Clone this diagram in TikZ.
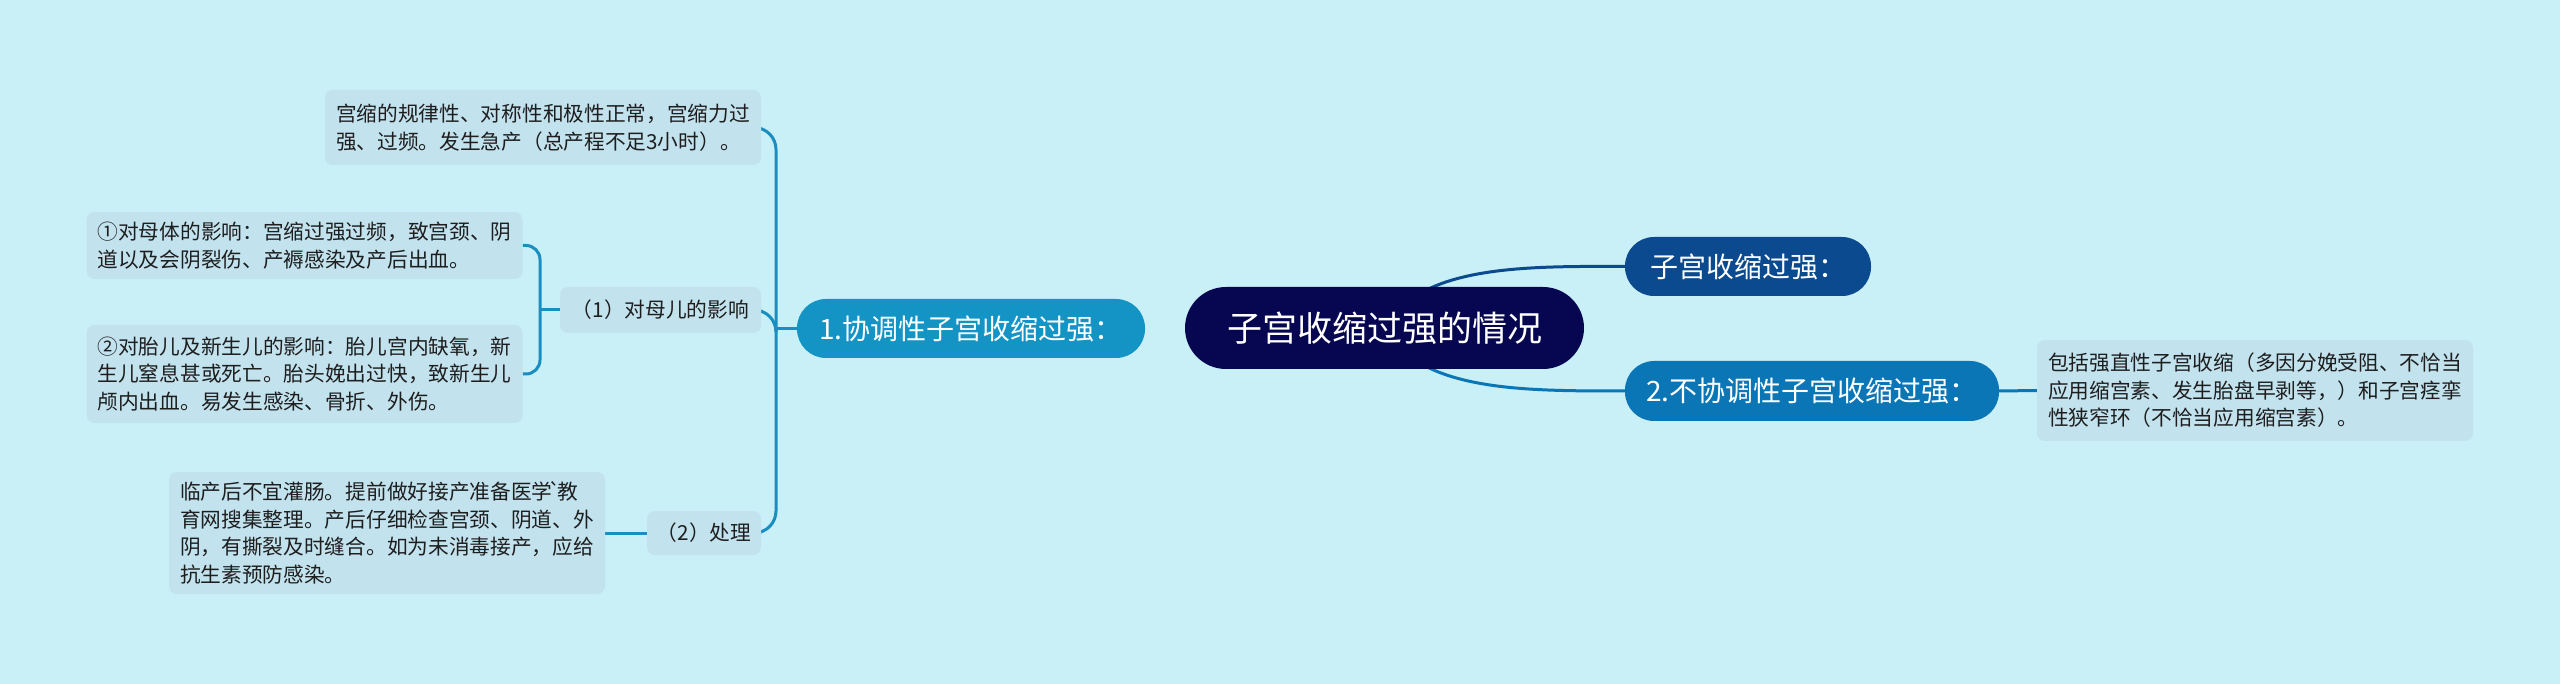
\documentclass[tikz,border=0pt]{standalone}
\usepackage{fontspec}
\setmainfont{Noto Sans CJK SC}
\usetikzlibrary{backgrounds}
\definecolor{bg}{HTML}{C9EFF7}
\definecolor{leaf}{HTML}{C2E2EE}
\definecolor{lline}{HTML}{1A8EC0}
\definecolor{cnode}{HTML}{070751}
\definecolor{nA}{HTML}{1494C5}
\definecolor{nB}{HTML}{0B4A8E}
\definecolor{nC}{HTML}{0A76B6}
\definecolor{ltext}{HTML}{1E1E1E}
\begin{document}
\begin{tikzpicture}[x=1pt,y=-1pt,
 leafbox/.style={fill=leaf, rounded corners=8pt, align=left, anchor=center, inner xsep=11pt, inner ysep=0pt, font=\fontsize{20.7}{27.5}\selectfont, text=ltext},
 midbox/.style={fill=leaf, rounded corners=8pt, anchor=center, inner sep=0pt, font=\fontsize{20.7}{27.5}\selectfont, text=ltext},
 mainbox/.style={rounded corners=29pt, text=white, inner sep=0pt, font=\fontsize{28}{32}\selectfont},
 conn/.style={line width=3pt, draw=lline}]
\useasboundingbox (0,0) rectangle (2560,684);

\node[mainbox, fill=cnode, minimum width=399pt, minimum height=82pt, rounded corners=41pt, font=\fontsize{35}{40}\selectfont] (c) at (1384.5,328) {子宫收缩过强的情况};
\node[mainbox, fill=nA, minimum width=348pt, minimum height=59pt] (a) at (971,328.5) {1.协调性子宫收缩过强：};
\node[mainbox, fill=nB, minimum width=246pt, minimum height=59pt] (b) at (1748,266.5) {子宫收缩过强：};
\node[mainbox, fill=nC, minimum width=374pt, minimum height=60pt] (d) at (1812,391) {2.不协调性子宫收缩过强：};

\node[midbox, minimum width=201pt, minimum height=46pt] (p1) at (660.5,310) {（1）对母儿的影响};
\node[midbox, minimum width=114pt, minimum height=44pt] (p2) at (704,533) {（2）处理};

\node[leafbox, minimum height=75pt] (t) at (543,127.5) {宫缩的规律性、对称性和极性正常，宫缩力过\\强、过频。发生急产（总产程不足3小时）。};
\node[leafbox, minimum height=67pt] (m1) at (304.5,245.5) {①对母体的影响：宫缩过强过频，致宫颈、阴\\道以及会阴裂伤、产褥感染及产后出血。};
\node[leafbox, minimum height=98pt] (m2) at (304.5,374) {②对胎儿及新生儿的影响：胎儿宫内缺氧，新\\生儿窒息甚或死亡。胎头娩出过快，致新生儿\\颅内出血。易发生感染、骨折、外伤。};
\node[leafbox, minimum height=122pt] (h) at (387,533) {临产后不宜灌肠。提前做好接产准备医学\kern-4pt\textasciigrave\kern-4pt 教\\育网搜集整理。产后仔细检查宫颈、阴道、外\\阴，有撕裂及时缝合。如为未消毒接产，应给\\抗生素预防感染。};
\node[leafbox, minimum height=101pt] (r) at (2255,390.5) {包括强直性子宫收缩（多因分娩受阻、不恰当\\应用缩宫素、发生胎盘早剥等，）和子宫痉挛\\性狭窄环（不恰当应用缩宫素）。};

\begin{scope}[on background layer]
\fill[bg] (0,0) rectangle (2560,684);
\coordinate (ja) at (776,328.5);
\coordinate (jp) at (540,310);
\draw[conn] (a.west) -- (ja);
\draw[conn, rounded corners=22pt] (ja) |- (t.east);
\draw[conn, rounded corners=22pt] (ja) |- (p1.east);
\draw[conn, rounded corners=22pt] (ja) |- (p2.east);
\draw[conn] (p1.west) -- (jp);
\draw[conn, rounded corners=14pt] (jp) |- (m1.east);
\draw[conn, rounded corners=14pt] (jp) |- (m2.east);
\draw[conn] (p2.west) -- (h.east);
\draw[conn, draw=nB] (c.center) .. controls (1420,266) and (1520,266) .. (b.west);
\draw[conn, draw=nC] (c.center) .. controls (1420,391) and (1520,391) .. (d.west);
\draw[conn, draw=nC] (d.east) -- (r.west);
\end{scope}
\end{tikzpicture}
\end{document}
